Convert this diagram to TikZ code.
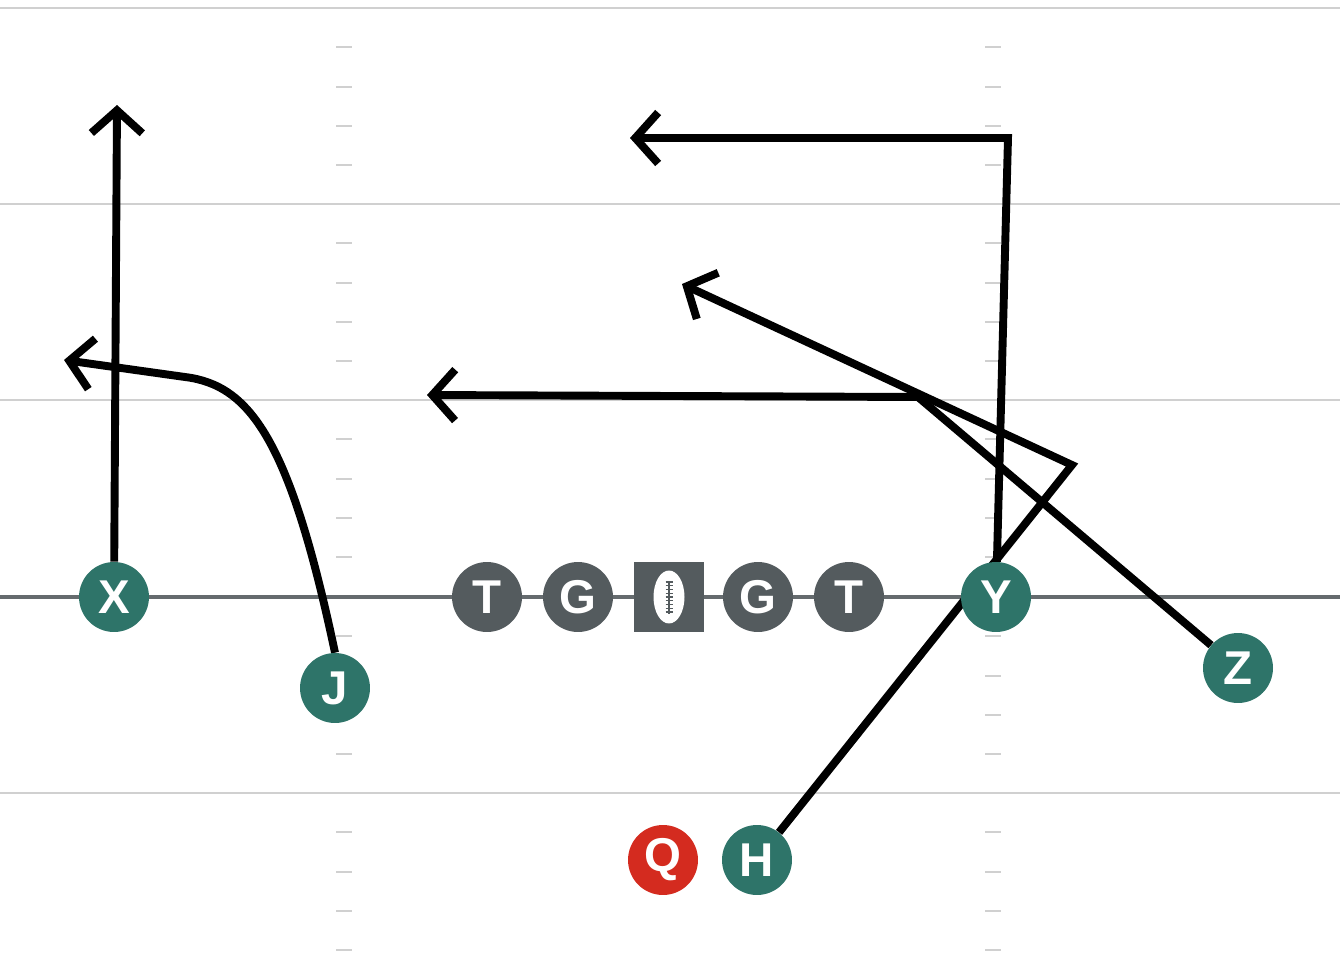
\documentclass[tikz,border=0pt]{standalone}
\usepackage{fontspec}
\setmainfont{Liberation Sans}
\usetikzlibrary{arrows.meta,calc}
\pgfdeclarelayer{field}
\pgfdeclarelayer{routes}
\pgfsetlayers{field,routes,main}
\definecolor{offgreen}{HTML}{2E7469}
\definecolor{linemen}{HTML}{545B5E}
\definecolor{qbred}{HTML}{D42B1F}
\definecolor{yardgray}{HTML}{D0D0D0}
\begin{document}
\begin{tikzpicture}[x=0.02cm,y=-0.02cm,
        player/.style={circle,minimum size=1.4cm,inner sep=0pt,fill=offgreen,text=white,
            font=\fontsize{27}{27}\selectfont\bfseries},
        lineman/.style={player,fill=linemen},
        route/.style={line width=4.5pt,-{Straight Barb[length=13pt,width=29pt]}},
        yardline/.style={yardgray,line width=1.3pt},
        hashmark/.style={yardgray,line width=1.2pt}]
        \useasboundingbox (0,0) rectangle (1340,960);
        % players
        \node[player] (X) at (114,597) {X};
        \node[player] (J) at (335,688) {J};
        \node[lineman] (LT) at (487,597) {T};
        \node[lineman] (LG) at (578,597) {G};
        \node[rectangle,minimum size=1.4cm,inner sep=0pt,fill=linemen] (C) at (669,597) {};
        \node[lineman] (RG) at (758,597) {G};
        \node[lineman] (RT) at (849,597) {T};
        \node[player] (Y) at (996,597) {Y};
        \node[player] (Z) at (1238,668) {Z};
        \node[player,fill=qbred] (Q) at (663,860) {Q};
        \node[player] (H) at (757,860) {H};
        % ball
        \fill[white] (C) ellipse [x radius=0.31cm,y radius=0.53cm];
        \draw[linemen,line width=0.8pt] ($(C)+(0,-0.33cm)$) -- ($(C)+(0,0.33cm)$);
        \foreach \k in {-4,...,4}
            \draw[linemen,line width=0.6pt] ($(C)+(-0.07cm,\k*0.075cm)$) -- ($(C)+(0.07cm,\k*0.075cm)$);
        % field
        \begin{pgfonlayer}{field}
            \foreach \yy in {8,204,400,793}
                \draw[yardline] (0,\yy) -- (1340,\yy);
            \draw[linemen!90,line width=2pt] (0,597) -- (1340,597);
            \foreach \blk in {8,204,400,597,793}
                \foreach \k in {1,2,3,4} {
                    \draw[hashmark] (336,{\blk+39.3*\k}) -- (352,{\blk+39.3*\k});
                    \draw[hashmark] (985,{\blk+39.3*\k}) -- (1001,{\blk+39.3*\k});
                }
        \end{pgfonlayer}
        % routes
        \coordinate (xend) at (117,105);
        \coordinate (jbend) at (185,377);
        \coordinate (jend) at (64,360);
        \coordinate (ycorner) at (1008,138);
        \coordinate (yend) at (630,138);
        \coordinate (hcorner) at (1072,465);
        \coordinate (hend) at (682,284);
        \coordinate (zcorner) at (918,397);
        \coordinate (zend) at (427,395);
        \begin{pgfonlayer}{routes}
            \draw[route] (X) -- (xend);
            \draw[route] (J.north) .. controls (290,440) and (250,385) .. (jbend) -- (jend);
            \draw[route] (Y) -- (ycorner) -- (yend);
            \draw[route] (H) -- (hcorner) -- (hend);
            \draw[route] (Z) -- (zcorner) -- (zend);
        \end{pgfonlayer}
\end{tikzpicture}
\end{document}
